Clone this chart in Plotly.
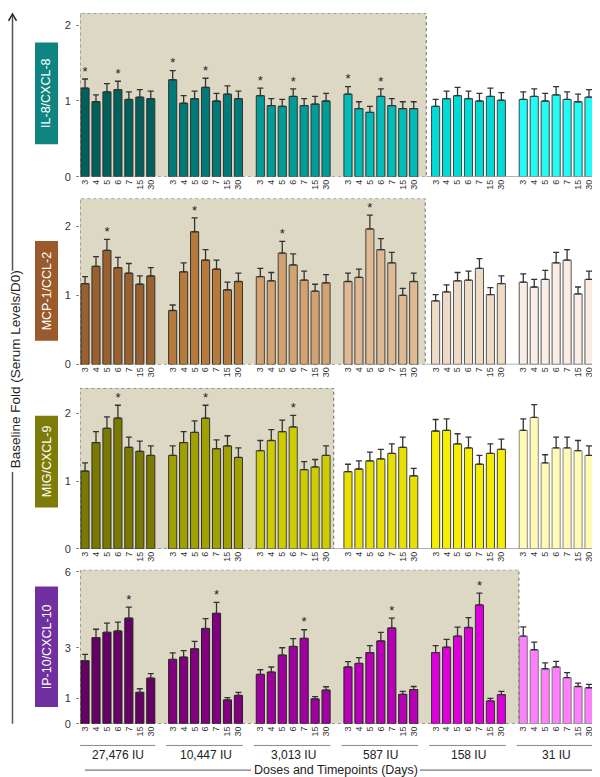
import plotly.graph_objects as go

days = ["3", "4", "5", "6", "7", "15", "30"]
doses = ["27,476 IU", "10,447 IU", "3,013 IU", "587 IU", "158 IU", "31 IU"]

il8_mean = [
    [1.17, 0.99, 1.12, 1.15, 1.02, 1.05, 1.03],
    [1.28, 0.97, 1.03, 1.18, 1.00, 1.09, 1.03],
    [1.07, 0.94, 0.93, 1.06, 0.94, 0.96, 1.00],
    [1.09, 0.90, 0.85, 1.06, 0.94, 0.90, 0.90],
    [0.93, 1.03, 1.07, 1.03, 1.00, 1.06, 1.01],
    [1.02, 1.06, 1.00, 1.08, 1.02, 0.99, 1.05],
]
il8_err = [
    [0.12, 0.09, 0.11, 0.11, 0.10, 0.10, 0.10],
    [0.12, 0.10, 0.10, 0.12, 0.10, 0.11, 0.10],
    [0.10, 0.09, 0.09, 0.10, 0.09, 0.10, 0.10],
    [0.10, 0.09, 0.08, 0.10, 0.09, 0.09, 0.09],
    [0.09, 0.10, 0.11, 0.10, 0.10, 0.11, 0.10],
    [0.10, 0.10, 0.10, 0.11, 0.10, 0.10, 0.10],
]
mcp1_mean = [
    [1.17, 1.42, 1.65, 1.40, 1.32, 1.16, 1.28],
    [0.78, 1.34, 1.92, 1.51, 1.38, 1.08, 1.20],
    [1.27, 1.21, 1.61, 1.44, 1.22, 1.06, 1.18],
    [1.20, 1.26, 1.96, 1.66, 1.47, 1.00, 1.20],
    [0.92, 1.05, 1.21, 1.22, 1.39, 1.01, 1.17],
    [1.19, 1.12, 1.23, 1.47, 1.51, 1.02, 1.23],
]
mcp1_err = [
    [0.10, 0.14, 0.16, 0.15, 0.14, 0.12, 0.12],
    [0.08, 0.13, 0.20, 0.15, 0.13, 0.11, 0.12],
    [0.12, 0.12, 0.17, 0.16, 0.13, 0.10, 0.12],
    [0.12, 0.12, 0.20, 0.16, 0.15, 0.10, 0.12],
    [0.09, 0.10, 0.12, 0.13, 0.14, 0.10, 0.11],
    [0.12, 0.11, 0.13, 0.15, 0.15, 0.10, 0.12],
]
mig_mean = [
    [1.15, 1.57, 1.78, 1.93, 1.50, 1.44, 1.38],
    [1.38, 1.57, 1.72, 1.93, 1.48, 1.52, 1.35],
    [1.45, 1.60, 1.73, 1.80, 1.17, 1.21, 1.38],
    [1.14, 1.18, 1.30, 1.33, 1.41, 1.50, 1.08],
    [1.74, 1.75, 1.55, 1.49, 1.25, 1.41, 1.47],
    [1.75, 1.94, 1.27, 1.49, 1.49, 1.45, 1.38],
]
mig_err = [
    [0.12, 0.16, 0.17, 0.19, 0.15, 0.15, 0.14],
    [0.14, 0.16, 0.17, 0.19, 0.13, 0.15, 0.14],
    [0.15, 0.16, 0.17, 0.17, 0.12, 0.11, 0.14],
    [0.11, 0.12, 0.13, 0.14, 0.14, 0.15, 0.11],
    [0.17, 0.17, 0.15, 0.16, 0.13, 0.14, 0.15],
    [0.17, 0.19, 0.12, 0.16, 0.16, 0.15, 0.14],
]
ip10_mean = [
    [2.49, 3.40, 3.61, 3.66, 4.17, 1.24, 1.80],
    [2.54, 2.63, 2.96, 3.76, 4.36, 0.94, 1.12],
    [1.95, 2.04, 2.71, 3.05, 3.37, 0.98, 1.33],
    [2.24, 2.38, 2.81, 3.27, 3.78, 1.16, 1.35],
    [2.81, 3.02, 3.46, 3.80, 4.69, 0.90, 1.15],
    [3.46, 2.92, 2.17, 2.24, 1.82, 1.47, 1.42],
]
ip10_err = [
    [0.25, 0.33, 0.36, 0.35, 0.43, 0.14, 0.18],
    [0.26, 0.26, 0.29, 0.39, 0.43, 0.09, 0.12],
    [0.18, 0.20, 0.29, 0.31, 0.34, 0.09, 0.13],
    [0.21, 0.23, 0.27, 0.34, 0.39, 0.12, 0.12],
    [0.27, 0.31, 0.35, 0.39, 0.47, 0.10, 0.13],
    [0.36, 0.30, 0.23, 0.22, 0.20, 0.13, 0.13],
]

# significance marks: (group, day index)
il8_star = [(0, 0), (0, 3), (1, 0), (1, 3), (2, 0), (2, 3), (3, 0), (3, 3)]
mcp1_star = [(0, 2), (1, 2), (2, 2), (3, 2)]
mig_star = [(0, 3), (1, 3), (2, 3)]
ip10_star = [(0, 4), (1, 4), (2, 4), (3, 4), (4, 4)]

FONT = "Arial, Liberation Sans, sans-serif"
W, H = 600, 777


def py(px):
    return (H - px) / H


def px_x(px):
    return px / W


panels = [
    dict(name="IL-8/CXCL-8", mean=il8_mean, err=il8_err, star=il8_star,
         colors=["#00605c", "#007a78", "#009c98", "#00bdb8", "#00dbd5", "#22fbf6"],
         edge=["#333", "#333", "#333", "#333", "#444", "#444"],
         box="#0f8582", y0=167, ytop=1, rng=2.16, ticks=[0, 1, 2], shade=31.15,
         label=(31, 134)),
    dict(name="MCP-1/CCL-2", mean=mcp1_mean, err=mcp1_err, star=mcp1_star,
         colors=["#9a602e", "#b87a3a", "#d4a170", "#dfb994", "#eedbc6", "#f9ede5"],
         edge=["#333", "#333", "#444", "#444", "#555", "#555"],
         box="#9a5a2c", y0=357, ytop=189, rng=2.4, ticks=[0, 1, 2], shade=31.05,
         label=(232, 333)),
    dict(name="MIG/CXCL-9", mean=mig_mean, err=mig_err, star=mig_star,
         colors=["#7a7a00", "#a0a000", "#cccc00", "#e8e000", "#f6ee00", "#fffab4"],
         edge=["#333", "#333", "#444", "#444", "#444", "#888"],
         box="#7d7c08", y0=544, ytop=381, rng=2.373, ticks=[0, 1, 2], shade=22.7,
         label=(409, 502)),
    dict(name="IP-10/CXCL-10", mean=ip10_mean, err=ip10_err, star=ip10_star,
         colors=["#660066", "#800080", "#a000a0", "#b800b8", "#dd00dd", "#ff80ff"],
         edge=["#222", "#222", "#222", "#222", "#333", "#777"],
         box="#7030a0", y0=721, ytop=565, rng=6.08, ticks=[0, 1, 3, 6], shade=39.6,
         label=(582, 704)),
]

XMIN, XMAX = -0.46, 47.46
slot = lambda g, i: g * 8 + i

fig = go.Figure()
shapes, annotations = [], []
layout = {}

for p_i, p in enumerate(panels):
    sfx = "" if p_i == 0 else str(p_i + 1)
    xa, ya = "x" + sfx, "y" + sfx
    for g in range(6):
        fig.add_trace(go.Bar(
            x=[slot(g, i) for i in range(7)],
            y=p["mean"][g],
            width=0.74,
            marker=dict(color=p["colors"][g], line=dict(color=p["edge"][g], width=1)),
            error_y=dict(type="data", array=p["err"][g], symmetric=False,
                         arrayminus=[0] * 7, color="#333", thickness=1.3, width=3),
            xaxis=xa, yaxis=ya, showlegend=False, hoverinfo="skip",
        ))
    sx = [slot(g, i) for g, i in p["star"]]
    sy = [p["mean"][g][i] + p["err"][g][i] for g, i in p["star"]]
    fig.add_trace(go.Scatter(
        x=sx, y=sy, mode="text", text=["*"] * len(sx), textposition="top center",
        textfont=dict(family=FONT, size=13, color="#222"),
        xaxis=xa, yaxis=ya, showlegend=False, hoverinfo="skip",
    ))

    layout["xaxis" + sfx] = dict(
        domain=[72 / W, 597 / W], range=[XMIN, XMAX], anchor=ya,
        tickvals=[slot(g, i) for g in range(6) for i in range(7)],
        ticktext=days * 6, tickangle=-90, ticks="", showline=False,
        showgrid=False, zeroline=False,
        tickfont=dict(family=FONT, size=9, color="#333"),
    )
    layout["yaxis" + sfx] = dict(
        domain=[py(p["y0"]), py(p["ytop"])], range=[0, p["rng"]], anchor=xa,
        tickvals=p["ticks"], ticks="outside", ticklen=3, tickcolor="#888",
        ticklabelstandoff=3,
        showline=False, showgrid=False, zeroline=False,
        tickfont=dict(family=FONT, size=11, color="#333"),
    )

    # shaded significance region
    shapes.append(dict(type="rect", xref=xa, yref=ya, x0=XMIN, x1=p["shade"],
                       y0=0, y1=p["rng"], fillcolor="#dcd8c4",
                       line=dict(color="#666", width=1, dash="dot"), layer="below"))
    # solid baseline outside shaded region
    shapes.append(dict(type="line", xref=xa, yref=ya, x0=p["shade"], x1=XMAX,
                       y0=0, y1=0, line=dict(color="#999", width=1.5)))
    # label box on left
    t, b = p["label"]
    shapes.append(dict(type="rect", xref="paper", yref="paper",
                       x0=px_x(27), x1=px_x(50), y0=py(b), y1=py(t),
                       fillcolor=p["box"], line=dict(width=0)))
    annotations.append(dict(xref="paper", yref="paper", x=px_x(38.5), y=py((t + b) / 2),
                            xanchor="center", yanchor="middle",
                            text=p["name"], textangle=-90, showarrow=False,
                            font=dict(family=FONT, size=12.5, color="white")))

# dose brackets and labels under the last panel
for g, d in enumerate(doses):
    shapes.append(dict(type="line", xref="x4", yref="paper",
                       x0=slot(g, 0) - 0.6, x1=slot(g, 6) + 0.4, y0=py(743), y1=py(743),
                       line=dict(color="#888", width=1)))
    annotations.append(dict(xref="x4", yref="paper", x=slot(g, 3), y=py(753),
                            xanchor="center", yanchor="middle",
                            text=d, showarrow=False,
                            font=dict(family=FONT, size=12, color="#222")))

for x_a, x_b in [(77, 243), (412, 587)]:
    shapes.append(dict(type="line", xref="paper", yref="paper", x0=px_x(x_a), x1=px_x(x_b),
                       y0=py(768), y1=py(768), line=dict(color="#777", width=1.2)))
annotations.append(dict(xref="paper", yref="paper", x=px_x(328), y=py(768),
                        xanchor="center", yanchor="middle",
                        text="Doses and Timepoints (Days)", showarrow=False,
                        font=dict(family=FONT, size=12.5, color="#222")))

# left arrow and y title
for y_a, y_b in [(3, 262), (466, 721)]:
    shapes.append(dict(type="line", xref="paper", yref="paper", x0=px_x(4.5), x1=px_x(4.5),
                       y0=py(y_a), y1=py(y_b), line=dict(color="#555", width=1.5)))
shapes.append(dict(type="path", xref="paper", yref="paper",
                   path=f"M {px_x(0.5)},{py(9)} L {px_x(4.5)},{py(2)} L {px_x(8.5)},{py(9)}",
                   line=dict(color="#222", width=1.5)))
annotations.append(dict(xref="paper", yref="paper", x=px_x(7), y=py(362),
                        xanchor="center", yanchor="middle",
                        text="Baseline Fold (Serum Levels/D0)", textangle=-90,
                        showarrow=False, font=dict(family=FONT, size=13.5, color="#222")))

fig.update_layout(
    width=W, height=H, margin=dict(l=0, r=0, t=0, b=0),
    paper_bgcolor="white", plot_bgcolor="white", barmode="overlay",
    shapes=shapes, annotations=annotations, **layout,
)
fig.write_html("out.html")
